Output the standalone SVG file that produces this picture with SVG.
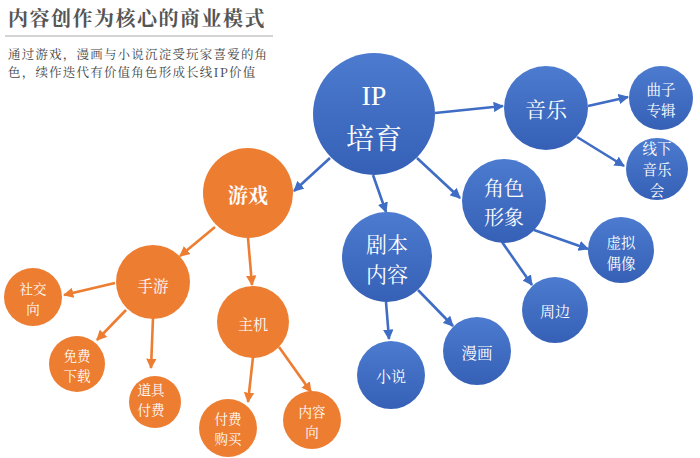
<svg xmlns="http://www.w3.org/2000/svg" width="700" height="458" viewBox="0 0 700 458">
<defs>
<linearGradient id="gb" x1="0" y1="0" x2="0" y2="1">
<stop offset="0" stop-color="#4c7bcf"/>
<stop offset="1" stop-color="#3560b6"/>
</linearGradient>
<marker id="ab" viewBox="0 0 10 10" refX="9" refY="5" markerWidth="4" markerHeight="4" orient="auto" markerUnits="strokeWidth">
<path d="M0,0 L10,5 L0,10 Z" fill="#3f6cc4"/>
</marker>
<marker id="ao" viewBox="0 0 10 10" refX="9" refY="5" markerWidth="4" markerHeight="4" orient="auto" markerUnits="strokeWidth">
<path d="M0,0 L10,5 L0,10 Z" fill="#ed7d31"/>
</marker>
</defs>
<style>
.b{fill:url(#gb)}
.o{fill:#ed7d31}
.t{fill:#fff;font-family:"Noto Serif CJK SC","Noto Sans CJK SC","Liberation Serif",serif;text-anchor:middle;dominant-baseline:central}
.s{font-size:13.5px}
.m{font-size:14.5px}
.lb{stroke:#3f6cc4;stroke-width:2.6;fill:none;marker-end:url(#ab)}
.lo{stroke:#ed7d31;stroke-width:2.6;fill:none;marker-end:url(#ao)}
.title{font-family:"Noto Serif CJK SC","Noto Sans CJK SC",serif;font-weight:bold;fill:#555;font-size:20px;letter-spacing:1.5px}
.sub{font-family:"Noto Serif CJK SC","Noto Sans CJK SC",serif;fill:#444;font-size:12.5px;letter-spacing:1.2px}
</style>
<rect width="700" height="458" fill="#fff"/>
<g id="header">
<text class="title" x="8" y="26">内容创作为核心的商业模式</text>
<line x1="5" y1="36" x2="273" y2="36" stroke="#aaa" stroke-width="1.2"/>
<text class="sub" x="8" y="58.5">通过游戏，漫画与小说沉淀受玩家喜爱的角</text>
<text class="sub" x="8" y="77">色，续作迭代有价值角色形成长线IP价值</text>
</g>
<g id="connectors">
<line class="lb" x1="435" y1="113" x2="503" y2="106"/>
<line class="lb" x1="330" y1="158" x2="294" y2="191"/>
<line class="lb" x1="373" y1="175" x2="386" y2="212"/>
<line class="lb" x1="417" y1="158" x2="460" y2="198"/>
<line class="lb" x1="588" y1="106" x2="628" y2="97"/>
<line class="lb" x1="577" y1="137" x2="624" y2="166"/>
<line class="lb" x1="534" y1="230" x2="588" y2="249"/>
<line class="lb" x1="502" y1="242" x2="532" y2="285"/>
<line class="lb" x1="386" y1="302" x2="389" y2="339"/>
<line class="lb" x1="418" y1="290" x2="453" y2="326"/>
<line class="lo" x1="215" y1="227" x2="180" y2="256"/>
<line class="lo" x1="248" y1="238" x2="252" y2="285"/>
<line class="lo" x1="115" y1="283" x2="64" y2="295"/>
<line class="lo" x1="126" y1="310" x2="97" y2="340"/>
<line class="lo" x1="153" y1="318" x2="151" y2="368"/>
<line class="lo" x1="253" y1="357" x2="248" y2="402"/>
<line class="lo" x1="279" y1="347" x2="311" y2="392"/>
</g>
<g id="ip"><circle class="b" cx="374" cy="114" r="61"/><text class="t" font-size="28"><tspan x="374" y="95" font-family="Liberation Serif">IP</tspan><tspan x="374" y="137">培育</tspan></text></g>
<g id="music"><circle class="b" cx="546" cy="108" r="42"/><text class="t" x="546" y="108" font-size="21">音乐</text></g>
<g id="album"><circle class="b" cx="661" cy="98" r="32"/><text class="t m"><tspan x="661" y="88">曲子</tspan><tspan x="661" y="109">专辑</tspan></text></g>
<g id="concert"><circle class="b" cx="657" cy="169" r="31"/><text class="t m"><tspan x="657" y="147">线下</tspan><tspan x="657" y="168">音乐</tspan><tspan x="657" y="189">会</tspan></text></g>
<g id="role"><circle class="b" cx="504" cy="201" r="42"/><text class="t" font-size="20"><tspan x="504" y="187">角色</tspan><tspan x="504" y="216">形象</tspan></text></g>
<g id="script"><circle class="b" cx="387" cy="257" r="45"/><text class="t" font-size="21"><tspan x="387" y="243">剧本</tspan><tspan x="387" y="273">内容</tspan></text></g>
<g id="idol"><circle class="b" cx="621" cy="250" r="33"/><text class="t m"><tspan x="621" y="241">虚拟</tspan><tspan x="621" y="262">偶像</tspan></text></g>
<g id="merch"><circle class="b" cx="555" cy="310" r="33"/><text class="t" x="555" y="310" font-size="15">周边</text></g>
<g id="comic"><circle class="b" cx="477" cy="351" r="34"/><text class="t" x="477" y="352" font-size="15.5">漫画</text></g>
<g id="novel"><circle class="b" cx="391" cy="375" r="34"/><text class="t" x="391" y="375" font-size="15">小说</text></g>
<g id="game"><circle class="o" cx="248" cy="193" r="45"/><text class="t" x="248" y="194" font-size="20" font-weight="bold">游戏</text></g>
<g id="mobile"><circle class="o" cx="153" cy="282" r="37"/><text class="t" x="153" y="285" font-size="15.5">手游</text></g>
<g id="social"><circle class="o" cx="33" cy="297" r="29"/><text class="t s"><tspan x="33" y="288">社交</tspan><tspan x="33" y="307.6">向</tspan></text></g>
<g id="free"><circle class="o" cx="77" cy="364" r="28"/><text class="t s"><tspan x="77" y="355">免费</tspan><tspan x="77" y="374.6">下载</tspan></text></g>
<g id="items"><circle class="o" cx="155" cy="402" r="26"/><text class="t s"><tspan x="151" y="389">道具</tspan><tspan x="151" y="408.6">付费</tspan></text></g>
<g id="console"><circle class="o" cx="253" cy="322" r="36"/><text class="t" x="253" y="323" font-size="15">主机</text></g>
<g id="buy"><circle class="o" cx="228" cy="428" r="29"/><text class="t s"><tspan x="228" y="418">付费</tspan><tspan x="228" y="437.6">购买</tspan></text></g>
<g id="content"><circle class="o" cx="312" cy="420" r="29"/><text class="t s"><tspan x="312" y="411">内容</tspan><tspan x="312" y="430.6">向</tspan></text></g>
</svg>
